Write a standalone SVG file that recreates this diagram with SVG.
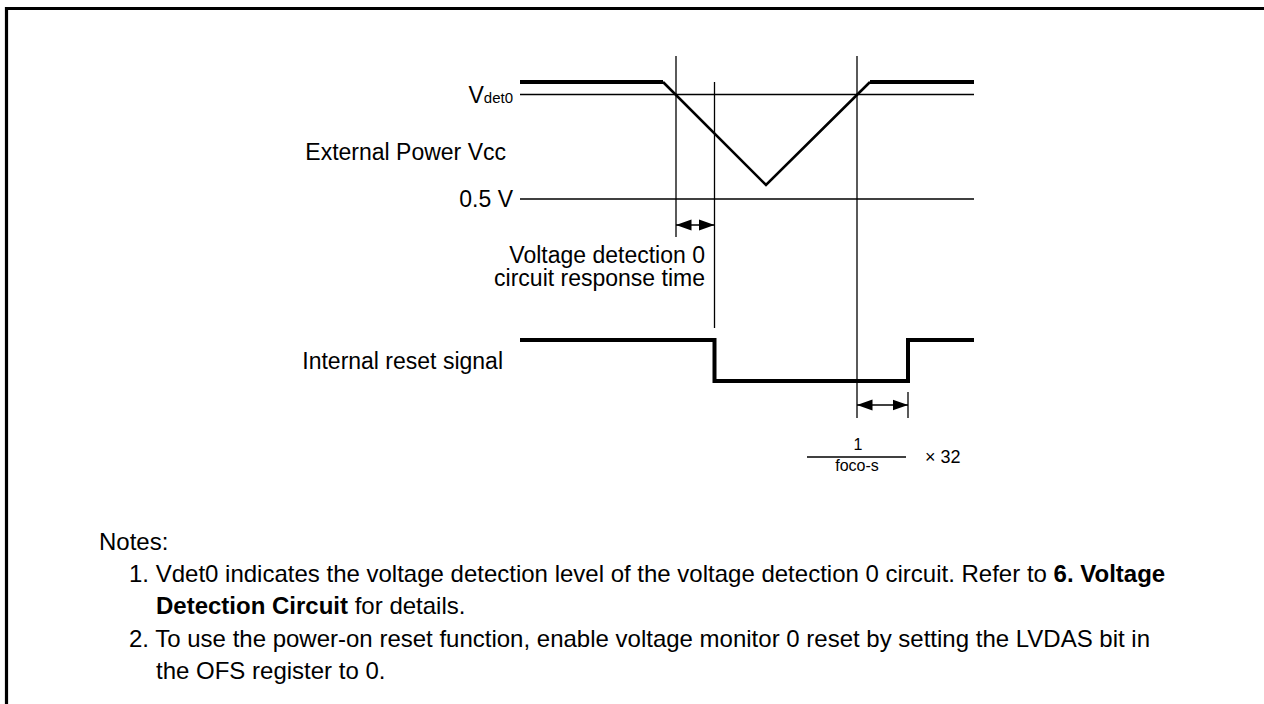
<svg xmlns="http://www.w3.org/2000/svg" width="1264" height="704" viewBox="0 0 1264 704">
<style>
text{font-family:"Liberation Sans",Arial,sans-serif;fill:#000}
.lbl{font-size:23px}
.sub{font-size:15px}
.fr{font-size:16px}
.nt{font-size:24px}
.b{font-weight:bold}
.thin{stroke:#000;stroke-width:1.3;fill:none}
.thick{stroke:#000;stroke-width:4;fill:none}
.diag{stroke:#000;stroke-width:2.6;fill:none}
</style>
<defs>
<marker id="ah" markerUnits="userSpaceOnUse" markerWidth="16" markerHeight="12" refX="15.5" refY="6" orient="auto-start-reverse">
<path d="M0,0.5 L15.5,6 L0,11.5 z" fill="#000"/>
</marker>
</defs>
<rect width="1264" height="704" fill="#fff"/>
<g id="frame"><path d="M6.5,704 V8.5 H1264" fill="none" stroke="#000" stroke-width="3.2"/></g>

<g id="guides">
<line class="thin" x1="520" y1="94.5" x2="974" y2="94.5"/>
<line class="thin" x1="520" y1="199" x2="974" y2="199"/>
<line class="thin" x1="676" y1="56" x2="676" y2="237"/>
<line class="thin" x1="714.5" y1="82" x2="714.5" y2="328"/>
<line class="thin" x1="857" y1="56" x2="857" y2="418"/>
<line class="thin" x1="908" y1="392" x2="908" y2="418"/>
</g>

<g id="vcc-waveform">
<path class="diag" d="M663,82 L766,185 L870,82"/>
<path class="thick" d="M520,82 H663 M870,82 H974"/>
</g>

<g id="reset-waveform">
<path class="thick" d="M520,340 H714.5 V381 H908 V340 H974"/>
</g>

<g id="connectors">
<line class="thin" x1="676" y1="225" x2="714.5" y2="225" marker-start="url(#ah)" marker-end="url(#ah)"/>
<line class="thin" x1="857" y1="405" x2="908" y2="405" marker-start="url(#ah)" marker-end="url(#ah)"/>
</g>

<g id="label-vdet0"><text class="lbl" x="513" y="103" text-anchor="end">V<tspan class="sub">det0</tspan></text></g>
<g id="label-vcc"><text class="lbl" x="506" y="160" text-anchor="end">External Power Vcc</text></g>
<g id="label-05v"><text class="lbl" x="513" y="207" text-anchor="end">0.5 V</text></g>
<g id="label-response"><text class="lbl" x="705" y="263" text-anchor="end">Voltage detection 0</text><text class="lbl" x="705" y="286" text-anchor="end">circuit response time</text></g>
<g id="label-reset"><text class="lbl" x="503" y="369" text-anchor="end">Internal reset signal</text></g>

<g id="label-fraction">
<text class="fr" x="858" y="450" text-anchor="middle">1</text>
<line class="thin" x1="807" y1="457" x2="906" y2="457"/>
<text class="fr" x="857" y="471" text-anchor="middle">foco-s</text>
<text x="925" y="463" font-size="18">× 32</text>
</g>

<g id="notes">
<text class="nt" x="99" y="550">Notes:</text>
<text class="nt" x="129" y="582">1. Vdet0 indicates the voltage detection level of the voltage detection 0 circuit. Refer to <tspan class="b">6. Voltage</tspan></text>
<text class="nt" x="156" y="614"><tspan class="b">Detection Circuit</tspan> for details.</text>
<text class="nt" x="129" y="647">2. To use the power-on reset function, enable voltage monitor 0 reset by setting the LVDAS bit in</text>
<text class="nt" x="156" y="679">the OFS register to 0.</text>
</g>
</svg>
